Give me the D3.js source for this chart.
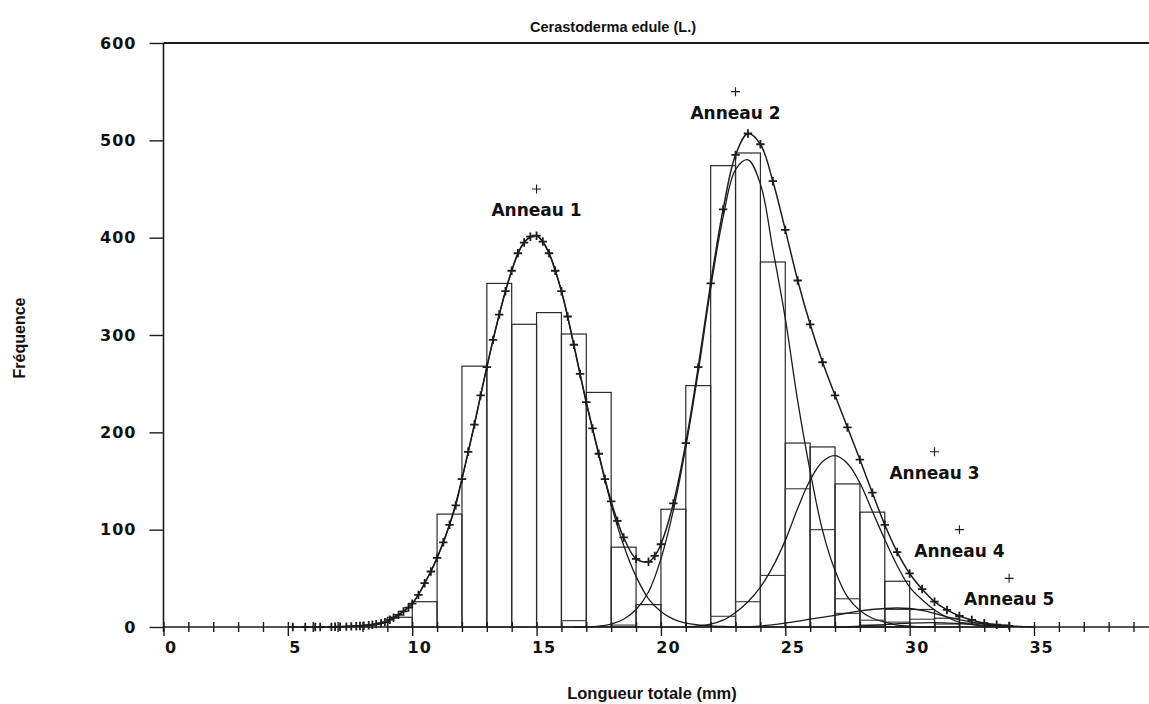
<!DOCTYPE html>
<html>
<head>
<meta charset="utf-8">
<script src="https://cdn.jsdelivr.net/npm/d3@7"></script>
<style>
  html, body { margin: 0; padding: 0; background: #fff; }
  svg { display: block; }
</style>
</head>
<body>
<svg id="chart" width="1149" height="704"></svg>
<script>
// ---- Size-frequency data, Cerastoderma edule (L.) ----

// Lower bound (mm) of each 1 mm length class and its observed count
const classStarts = [9, 10, 11, 12, 13, 14, 15, 16, 17, 18, 19, 20, 21,
                     22, 23, 24, 25, 26, 27, 28, 29, 30, 31, 32, 33];
const classCounts = [10, 26, 116, 268, 353, 311, 323, 301, 241, 82, 23, 121, 248,
                     474, 487, 375, 189, 185, 147, 118, 47, 18, 9, 4, 2];

// Counts attributed to a cohort inside a class: [class start, count]
const cohortBoxes = [[16, 6.5], [18, 2], [22, 11], [23, 26], [24, 53], [25, 142],
                     [26, 100], [27, 29], [27, 14], [28, 7], [28, 2], [29, 18],
                     [29, 5], [30, 8], [31, 3]];

// Fitted total curve, sampled at the "+" marker positions: [length, frequency]
const totalCurve = [
  [5.2, 0], [5.7, 0], [6.1, 0], [6.3, 0], [6.75, 0.1], [6.9, 0.2], [7.1, 0.3],
  [7.35, 0.4], [7.55, 0.6], [7.75, 0.8], [7.9, 1], [8.05, 1.3], [8.25, 1.8],
  [8.4, 2.3], [8.55, 3], [8.75, 4], [8.9, 5], [9.1, 7.5], [9.25, 9.5], [9.45, 12.5],
  [9.65, 16], [9.85, 20], [10, 24], [10.25, 33], [10.5, 45], [10.75, 57], [11, 71],
  [11.25, 87], [11.5, 105], [11.75, 125], [12, 152], [12.25, 180], [12.5, 208],
  [12.75, 238], [13, 267], [13.25, 295], [13.5, 321], [13.75, 345], [14, 366],
  [14.25, 384], [14.5, 395], [14.75, 401], [15, 402], [15.25, 396], [15.5, 384],
  [15.75, 366], [16, 345], [16.25, 319], [16.5, 290], [16.75, 260], [17, 231],
  [17.25, 204], [17.5, 178], [17.75, 152], [18, 129], [18.25, 109], [18.5, 92],
  [19, 70], [19.5, 67], [19.75, 73], [20, 85], [20.5, 127], [21, 189], [21.5, 267],
  [22, 353], [22.5, 429], [23, 485], [23.5, 507], [24, 496], [24.5, 458], [25, 408],
  [25.5, 356], [26, 311], [26.5, 272], [27, 238], [27.5, 205], [28, 172], [28.5, 138],
  [29, 105], [29.5, 77], [30, 55], [30.5, 39], [31, 26], [31.5, 17.5], [32, 11.3],
  [32.5, 7.2], [33, 4], [33.5, 2.3], [34, 1.2]
];

// Fitted normal components, one per age ring: [length, frequency]
const anneau1Curve = [
  [7, 0.3], [7.5, 0.6], [8, 1.2], [8.5, 2.8], [9, 6], [9.5, 13.5], [10, 24], [10.5, 45],
  [11, 71], [11.5, 105], [12, 152], [12.5, 208], [13, 267], [13.5, 321], [14, 366],
  [14.5, 395], [15, 402], [15.5, 384], [16, 345], [16.5, 289], [17, 230], [17.5, 177],
  [18, 126], [18.5, 84], [19, 52], [19.5, 29], [20, 16], [20.5, 8], [21, 4], [21.5, 2.2],
  [22, 1.2], [22.5, 0.6], [23, 0.2]
];
const anneau2Curve = [
  [16.5, 0], [17, 0.2], [17.5, 1], [18, 3], [18.5, 8], [19, 18], [19.5, 36], [20, 70],
  [20.5, 120], [21, 185], [21.5, 262], [22, 348], [22.5, 421], [23, 470], [23.5, 480],
  [24, 455], [24.5, 388], [25, 317], [25.5, 232], [26, 160], [26.5, 99], [27, 58],
  [27.5, 31], [28, 17], [28.5, 9], [29, 5], [29.5, 2], [30, 1], [30.5, 0.3], [31, 0]
];
const anneau3Curve = [
  [21, 0], [22, 3], [22.5, 7], [23, 15], [23.5, 26], [24, 41], [24.5, 62], [25, 89],
  [25.5, 122], [26, 151], [26.5, 170], [27, 176], [27.5, 168], [28, 148], [28.5, 119],
  [29, 90], [29.5, 63], [30, 41], [30.5, 28], [31, 17.5], [31.5, 10], [32, 5],
  [32.5, 2.5], [33, 1], [34, 0]
];
const anneau4Curve = [
  [23, 0], [24, 1], [25, 4], [26, 8], [27, 12], [28, 16.5], [29, 19], [29.5, 19.5],
  [30, 19], [30.5, 17], [31, 14], [31.5, 10.5], [32, 7.5], [32.5, 5], [33, 3],
  [34, 1], [35, 0.2]
];
const anneau5Curve = [
  [27, 0], [28, 1], [29, 2.5], [30, 4], [31, 4.5], [32, 3.5], [33, 2], [34, 0.8], [35, 0.2]
];

// Ring labels and the point each one is pinned to
const ringLabels = ["Anneau 1", "Anneau 2", "Anneau 3", "Anneau 4", "Anneau 5"];
const ringMarkX = [15, 23, 31, 32, 34];
const ringMarkY = [450, 550, 180, 100, 50];

// Axis ticks
const xTickValues = [0, 1, 2, 3, 4, 5, 6, 7, 8, 9, 10, 11, 12, 13, 14, 15, 16, 17, 18, 19,
                     20, 21, 22, 23, 24, 25, 26, 27, 28, 29, 30, 31, 32, 33, 34, 35, 36,
                     37, 38, 39];
const xLabelValues = [0, 5, 10, 15, 20, 25, 30, 35];
const yTickValues = [0, 100, 200, 300, 400, 500, 600];

// ---- Drawing ----
const W = 1149, H = 704;
const svg = d3.select("#chart");
const ink = "#1c1c1c";

const x = d3.scaleLinear().domain([0, 35]).range([163.5, 1034]);
const y = d3.scaleLinear().domain([0, 600]).range([627, 43]);

const plotLeft = x(0), plotTop = y(600), plotBottom = y(0);

// Histogram classes (outlined, unfilled)
svg.append("g")
  .selectAll("rect")
  .data(classStarts.map((s, i) => ({ s, n: classCounts[i] })))
  .join("rect")
  .attr("x", d => x(d.s))
  .attr("y", d => y(d.n))
  .attr("width", d => x(d.s + 1) - x(d.s))
  .attr("height", d => y(0) - y(d.n))
  .attr("fill", "none")
  .attr("stroke", "#2a2a2a")
  .attr("stroke-width", 1.2);

// Cohort boxes nested inside the classes
svg.append("g")
  .selectAll("rect")
  .data(cohortBoxes)
  .join("rect")
  .attr("x", d => x(d[0]))
  .attr("y", d => y(d[1]))
  .attr("width", d => x(d[0] + 1) - x(d[0]))
  .attr("height", d => y(0) - y(d[1]))
  .attr("fill", "none")
  .attr("stroke", "#3a3a3a")
  .attr("stroke-width", 1.1);

// Component curves
const line = d3.line()
  .x(d => x(d[0]))
  .y(d => y(d[1]))
  .curve(d3.curveCatmullRom.alpha(0.5));

const comps = svg.append("g").attr("fill", "none").attr("stroke", ink).attr("stroke-width", 1.3);
[anneau1Curve, anneau2Curve, anneau3Curve, anneau4Curve, anneau5Curve].forEach(c => {
  comps.append("path").attr("d", line(c));
});

// Total fitted curve with its "+" markers
svg.append("path")
  .attr("d", line(totalCurve))
  .attr("fill", "none")
  .attr("stroke", ink)
  .attr("stroke-width", 1.5);

const plusPath = r => `M${-r},0H${r}M0,${-r}V${r}`;

svg.append("g")
  .selectAll("path")
  .data(totalCurve)
  .join("path")
  .attr("transform", d => `translate(${x(d[0])},${y(d[1])})`)
  .attr("d", plusPath(4.2))
  .attr("fill", "none")
  .attr("stroke", ink)
  .attr("stroke-width", 1.8);

// Axes
const tickFont = "'DejaVu Sans', Verdana, sans-serif";
const gx = svg.append("g")
  .attr("transform", `translate(0,${plotBottom})`)
  .call(d3.axisBottom(x)
    .tickValues(xTickValues)
    .tickSize(5)
    .tickFormat(d => xLabelValues.includes(d) ? d : ""));
gx.select(".domain").remove();
gx.selectAll(".tick line")
  .attr("y1", -5)
  .attr("y2", d => d % 5 === 0 ? 9 : 5)
  .attr("stroke", ink)
  .attr("stroke-width", 1.4);
gx.selectAll(".tick text")
  .attr("x", 7)
  .attr("y", 14.5)
  .attr("fill", "#111")
  .style("font-family", tickFont)
  .style("font-weight", "bold")
  .style("font-size", "16px")
  .style("letter-spacing", "1px");

const gy = svg.append("g")
  .attr("transform", `translate(${plotLeft},0)`)
  .call(d3.axisLeft(y)
    .tickValues(yTickValues)
    .tickSize(14)
    .tickPadding(13));
gy.select(".domain").remove();
gy.selectAll(".tick line").attr("stroke", ink).attr("stroke-width", 1.4);
gy.selectAll(".tick text")
  .attr("fill", "#111")
  .style("font-family", tickFont)
  .style("font-weight", "bold")
  .style("font-size", "16px")
  .style("letter-spacing", "1px");

// Frame lines: x axis, y axis and top rule
svg.append("line")
  .attr("x1", plotLeft).attr("x2", W)
  .attr("y1", plotBottom).attr("y2", plotBottom)
  .attr("stroke", ink).attr("stroke-width", 1.6);
svg.append("line")
  .attr("x1", plotLeft).attr("x2", plotLeft)
  .attr("y1", plotTop).attr("y2", plotBottom + 5)
  .attr("stroke", ink).attr("stroke-width", 1.6);
svg.append("line")
  .attr("x1", plotLeft).attr("x2", W)
  .attr("y1", plotTop).attr("y2", plotTop)
  .attr("stroke", ink).attr("stroke-width", 2);

// Ring labels with their "+" marks
const rings = svg.append("g");
ringLabels.forEach((lab, i) => {
  const px = x(ringMarkX[i]), py = y(ringMarkY[i]);
  rings.append("path")
    .attr("transform", `translate(${px},${py})`)
    .attr("d", plusPath(4.5))
    .attr("fill", "none")
    .attr("stroke", ink)
    .attr("stroke-width", 1.1);
  rings.append("text")
    .attr("x", px)
    .attr("y", py + 27)
    .attr("text-anchor", "middle")
    .attr("fill", "#111")
    .style("font-family", tickFont)
    .style("font-weight", "bold")
    .style("font-size", "17px")
    .text(lab);
});

// Titles
const labelFont = "'Liberation Sans', Arial, sans-serif";
svg.append("text")
  .attr("x", 613).attr("y", 32)
  .attr("text-anchor", "middle")
  .attr("fill", "#111")
  .style("font-family", labelFont)
  .style("font-weight", "bold")
  .style("font-size", "14.5px")
  .text("Cerastoderma edule (L.)");

svg.append("text")
  .attr("x", 652).attr("y", 699)
  .attr("text-anchor", "middle")
  .attr("fill", "#111")
  .style("font-family", labelFont)
  .style("font-weight", "bold")
  .style("font-size", "16.5px")
  .text("Longueur totale (mm)");

svg.append("text")
  .attr("transform", "translate(25,338) rotate(-90)")
  .attr("text-anchor", "middle")
  .attr("fill", "#111")
  .style("font-family", labelFont)
  .style("font-weight", "bold")
  .style("font-size", "16px")
  .text("Fréquence");
</script>
</body>
</html>
